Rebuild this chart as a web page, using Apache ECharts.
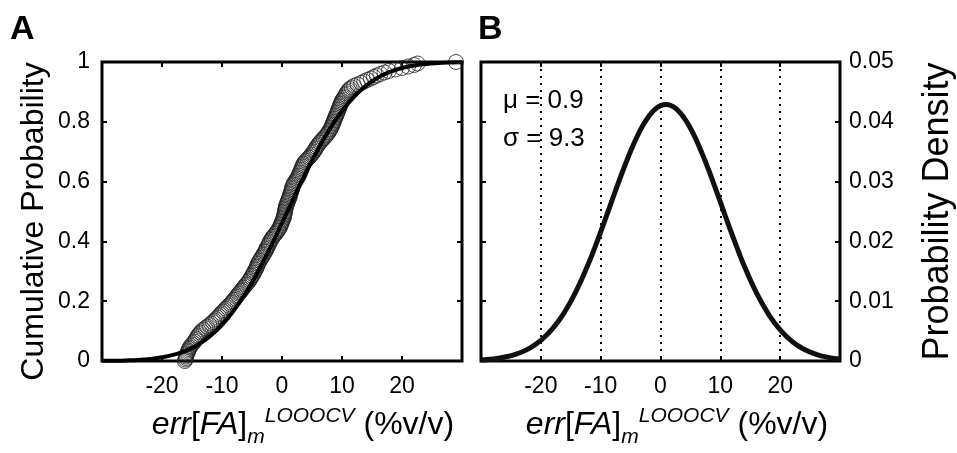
<!DOCTYPE html>
<html><head><meta charset="utf-8">
<script src="https://cdn.jsdelivr.net/npm/echarts@6/dist/echarts.min.js"></script>
<style>html,body{margin:0;padding:0;background:#fff}#c{width:957px;height:453px}</style>
</head><body><div id="c"></div>
<script>
// Fitted normal CDF (panel A)
const cdfX = [-30,-28,-26,-24,-22,-20,-18,-16,-14,-12,-10,-8,-6,-4,-2,0,2,4,6,8,10,12,14,16,18,20,22,24,26,28,30];
const cdfFit = [0.0005,0.0009,0.0019,0.0037,0.0069,0.0123,0.0211,0.0346,0.0546,0.0827,0.1206,0.1693,0.2291,0.2991,0.3776,0.4614,0.5470,0.6305,0.7083,0.7773,0.8360,0.8837,0.9205,0.9478,0.9670,0.9800,0.9884,0.9935,0.9965,0.9982,0.9991];
// Fitted normal PDF (panel B)
const pdfX = [-30,-28,-26,-24,-22,-20,-18,-16,-14,-12,-11,-10,-9,-8,-7,-6,-5,-4,-3,-2,-1,0,1,2,3,4,5,6,7,8,9,10,11,12,13,14,16,18,20,22,24,26,28,30];
const pdfFit = [0.00017,0.00034,0.00066,0.00119,0.00207,0.00344,0.00544,0.00823,0.01189,0.01640,
  0.01892,0.02158,0.02435,0.02714,0.02991,0.03257,0.03508,0.03734,0.03929,0.04086,0.04201,0.04270,0.04290,
  0.04260,0.04182,0.04058,0.03893,0.03692,0.03459,0.03207,0.02936,0.02660,0.02379,0.02103,0.01840,
  0.01589,0.01147,0.00791,0.00520,0.00327,0.00196,0.00112,0.00061,0.00032];
// Empirical CDF points (circles)
const empX = [
  -16.2,-16.1,-16.0,-16.0,-15.9,-15.8,-15.7,-15.6,-15.5,-15.4,-15.2,-15.0,-14.8,-14.6,-14.4,-14.3,-14.1,-14.0,-13.8,-13.6,
  -13.4,-13.1,-12.8,-12.5,-12.1,-11.8,-11.5,-11.3,-11.0,-10.8,-10.5,-10.3,-10.1,-9.8,-9.6,-9.4,-9.1,-8.9,-8.6,-8.4,
  -8.2,-8.0,-7.8,-7.6,-7.4,-7.2,-7.0,-6.8,-6.6,-6.4,-6.2,-6.0,-5.8,-5.6,-5.4,-5.3,-5.1,-5.0,-4.8,-4.7,
  -4.6,-4.4,-4.3,-4.2,-4.1,-4.0,-3.9,-3.7,-3.6,-3.4,-3.3,-3.1,-3.0,-2.8,-2.7,-2.6,-2.5,-2.3,-2.2,-2.1,
  -2.0,-1.8,-1.7,-1.5,-1.3,-1.1,-0.9,-0.7,-0.6,-0.4,-0.3,-0.2,-0.1,0.0,0.1,0.2,0.3,0.35,0.4,0.45,
  0.5,0.55,0.6,0.65,0.7,0.8,0.9,1.0,1.1,1.2,1.3,1.35,1.4,1.5,1.6,1.65,1.7,1.8,1.9,2.0,
  2.2,2.35,2.5,2.65,2.8,2.9,3.0,3.1,3.2,3.3,3.4,3.5,3.6,3.8,4.0,4.25,4.5,4.7,4.9,5.1,
  5.3,5.45,5.6,5.75,5.9,6.1,6.3,6.5,6.7,6.95,7.2,7.4,7.6,7.75,7.9,8.05,8.2,8.3,8.4,8.5,
  8.6,8.7,8.8,8.9,9.0,9.1,9.2,9.3,9.4,9.5,9.6,9.7,9.8,9.9,10.0,10.15,10.3,10.45,10.6,10.75,
  10.9,11.1,11.3,11.6,12.0,12.6,13.2,13.7,14.2,14.8,15.3,15.8,16.4,17.1,17.8,18.9,20.0,21.0,22.0,22.6,
  29.0];
const empY = [
  0.000,0.005,0.010,0.015,0.020,0.025,0.030,0.035,0.040,0.045,0.050,0.055,0.060,0.065,0.070,0.075,0.080,0.085,0.090,0.095,
  0.100,0.105,0.110,0.115,0.120,0.125,0.130,0.135,0.140,0.145,0.150,0.155,0.160,0.165,0.170,0.175,0.180,0.185,0.190,0.195,
  0.200,0.205,0.210,0.215,0.220,0.225,0.230,0.235,0.240,0.245,0.250,0.255,0.260,0.265,0.270,0.275,0.280,0.285,0.290,0.295,
  0.300,0.305,0.310,0.315,0.320,0.325,0.330,0.335,0.340,0.345,0.350,0.355,0.360,0.365,0.370,0.375,0.380,0.385,0.390,0.395,
  0.400,0.405,0.410,0.415,0.420,0.425,0.430,0.435,0.440,0.445,0.450,0.455,0.460,0.465,0.470,0.475,0.480,0.485,0.490,0.495,
  0.500,0.505,0.510,0.515,0.520,0.525,0.530,0.535,0.540,0.545,0.550,0.555,0.560,0.565,0.570,0.575,0.580,0.585,0.590,0.595,
  0.600,0.605,0.610,0.615,0.620,0.625,0.630,0.635,0.640,0.645,0.650,0.655,0.660,0.665,0.670,0.675,0.680,0.685,0.690,0.695,
  0.700,0.705,0.710,0.715,0.720,0.725,0.730,0.735,0.740,0.745,0.750,0.755,0.760,0.765,0.770,0.775,0.780,0.785,0.790,0.795,
  0.800,0.805,0.810,0.815,0.820,0.825,0.830,0.835,0.840,0.845,0.850,0.855,0.860,0.865,0.870,0.875,0.880,0.885,0.890,0.895,
  0.900,0.905,0.910,0.915,0.920,0.925,0.930,0.935,0.940,0.945,0.950,0.955,0.960,0.965,0.970,0.975,0.980,0.985,0.990,0.995,
  1.000];
const xTickLabels = ['-20','-10','0','10','20'];
const statsText = ['\u03bc = 0.9', '\u03c3 = 9.3'];

const FONT = 'Liberation Sans, Arial, Helvetica, sans-serif';
const chart = echarts.init(document.getElementById('c'), null, {renderer:'canvas'});

const tick = {inside:true, length:5, lineStyle:{color:'#000', width:2}};
const noLine = {show:false, onZero:false};
function titleRich(padLeft){
  return {
    padding:[0,0,0,padLeft],
    rich:{
      it:{fontFamily:FONT, fontSize:32, fontStyle:'italic', color:'#000'},
      up:{fontFamily:FONT, fontSize:32, color:'#000'},
      sub:{fontFamily:FONT, fontSize:21, fontStyle:'italic', color:'#000', padding:[24,0,0,0]},
      sup:{fontFamily:FONT, fontSize:21, fontStyle:'italic', color:'#000', padding:[0,0,18,0]}
    }
  };
}
const xTitle = '{it|err}{up|[}{it|FA}{up|]}{sub|m}{sup|LOOOCV}{up| (%v/v)}';

function xBottom(g, grid, padLeft){
  return {gridIndex:g, type:'value', min:-30, max:30, interval:10, position:'bottom',
    axisLine:noLine, axisTick:tick,
    axisLabel:{color:'#000', fontSize:23, fontFamily:FONT, margin:14,
      formatter:v => xTickLabels.includes(String(v)) ? String(v) : ''},
    splitLine: grid ? {show:true, lineStyle:{color:'#000', width:2, type:[2,5]}} : {show:false},
    name:xTitle, nameLocation:'middle', nameGap:42, nameTextStyle:titleRich(padLeft)};
}
function xTop(g){
  return {gridIndex:g, type:'value', min:-30, max:30, interval:10, position:'top',
    axisLine:noLine, axisTick:tick, axisLabel:{show:false}, splitLine:{show:false}};
}

chart.setOption({
  animation:false,
  backgroundColor:'#fff',
  grid:[
    {left:102, width:360, top:62, height:301, show:true, borderColor:'#000', borderWidth:3},
    {left:481, width:360, top:62, height:301, show:true, borderColor:'#000', borderWidth:3}
  ],
  xAxis:[xBottom(0,false,42), xTop(0), xBottom(1,true,33), xTop(1)],
  yAxis:[
    {gridIndex:0, type:'value', min:0, max:1, interval:0.2, position:'left',
      axisLine:noLine, axisTick:tick, splitLine:{show:false},
      axisLabel:{color:'#000', fontSize:23, fontFamily:FONT, margin:12},
      name:'Cumulative Probability', nameLocation:'middle', nameRotate:90, nameGap:52,
      nameTextStyle:{color:'#000', fontSize:32, fontFamily:FONT, padding:[0,20,0,0]}},
    {gridIndex:0, type:'value', min:0, max:1, interval:0.2, position:'right',
      axisLine:noLine, axisTick:tick, splitLine:{show:false}, axisLabel:{show:false}},
    {gridIndex:1, type:'value', min:0, max:0.05, interval:0.01, position:'right',
      axisLine:noLine, axisTick:tick, splitLine:{show:false},
      axisLabel:{color:'#000', fontSize:23, fontFamily:FONT, margin:9},
      name:'Probability Density', nameLocation:'middle', nameRotate:90, nameGap:80,
      nameTextStyle:{color:'#000', fontSize:36, fontFamily:FONT}},
    {gridIndex:1, type:'value', min:0, max:0.05, interval:0.01, position:'left',
      axisLine:noLine, axisTick:tick, splitLine:{show:false}, axisLabel:{show:false}}
  ],
  series:[
    {type:'scatter', xAxisIndex:0, yAxisIndex:0, z:2, clip:false,
      data: empX.map((x,i)=>[x, empY[i]]),
      symbol:'circle', symbolSize:15,
      itemStyle:{color:'rgba(0,0,0,0)', borderColor:'#222', borderWidth:1}},
    {type:'line', xAxisIndex:0, yAxisIndex:0, z:3, showSymbol:false, smooth:true,
      data: cdfX.map((x,i)=>[x, cdfFit[i]]),
      lineStyle:{color:'#000', width:4}},
    {type:'line', xAxisIndex:2, yAxisIndex:2, z:3, showSymbol:false, smooth:true,
      data: pdfX.map((x,i)=>[x, pdfFit[i]]),
      lineStyle:{color:'#111', width:5}}
  ],
  graphic:[
    {type:'text', x:10, y:30, style:{text:'A', font:'bold 34px '+FONT, fill:'#000', verticalAlign:'middle'}},
    {type:'text', x:478, y:30, style:{text:'B', font:'bold 34px '+FONT, fill:'#000', verticalAlign:'middle'}},
    {type:'text', x:503, y:101, style:{text:statsText[0], font:'26px '+FONT, fill:'#000', verticalAlign:'middle'}},
    {type:'text', x:503, y:139, style:{text:statsText[1], font:'26px '+FONT, fill:'#000', verticalAlign:'middle'}}
  ]
});
</script></body></html>
